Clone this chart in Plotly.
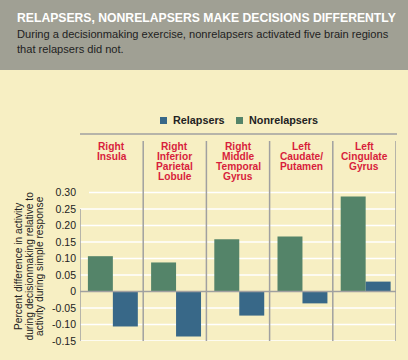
import plotly.graph_objects as go

categories = ["Right<br>Insula", "Right<br>Inferior<br>Parietal<br>Lobule",
              "Right<br>Middle<br>Temporal<br>Gyrus", "Left<br>Caudate/<br>Putamen",
              "Left<br>Cingulate<br>Gyrus"]
relapsers = [-0.106, -0.136, -0.073, -0.036, 0.030]
nonrelapsers = [0.107, 0.088, 0.158, 0.167, 0.288]
series_names = ["Relapsers", "Nonrelapsers"]
tick_vals = [0.30, 0.25, 0.20, 0.15, 0.10, 0.05, 0, -0.05, -0.10, -0.15]
tick_text = ["0.30", "0.25", "0.20", "0.15", "0.10", "0.05", "0", "-0.05", "-0.10", "-0.15"]
title = "RELAPSERS, NONRELAPSERS MAKE DECISIONS DIFFERENTLY"
subtitle = ["During a decisionmaking exercise, nonrelapsers activated five brain regions",
            "that relapsers did not."]
ytitle = ["Percent difference in activity", "during decisionmaking relative to",
          "activity during simple response"]

W, H = 408, 360
L, R, T, B = 80, 12, 134, 19
PW, PH = W - L - R, H - T - B

def px(x):
    return (x - L) / PW

def py(y):
    return (H - B - y) / PH

BG = "#F7EFC3"
GREEN = "#548469"
BLUE = "#386888"
RED = "#D81E3C"
GRAY = "#A0A0A0"
FONT = "Liberation Sans, Arial, sans-serif"

x_idx = list(range(len(categories)))
BW = 0.395
fig = go.Figure()
fig.add_bar(x=x_idx, y=nonrelapsers, name=series_names[1], marker_color=GREEN, marker_line_width=0,
            width=BW, offset=-0.375)
fig.add_bar(x=x_idx, y=relapsers, name=series_names[0], marker_color=BLUE, marker_line_width=0,
            width=BW, offset=0.02)

ymin, ymax = -0.15, -0.15 + PH * (0.05 / 16.5)

shapes = []
# header band
shapes.append(dict(type="rect", xref="paper", yref="paper", x0=px(0), x1=px(W), y0=py(70), y1=py(0),
                   fillcolor="#A0A094", line_width=0, layer="below"))
# gridlines
for v in tick_vals:
    if v == 0:
        continue
    shapes.append(dict(type="line", xref="paper", yref="y", x0=px(89) if v == max(tick_vals) else 0,
                       x1=1, y0=v, y1=v, line=dict(color="white", width=1.5), layer="below"))
# top rule
shapes.append(dict(type="line", xref="paper", yref="paper", x0=0, x1=px(397), y0=1, y1=1,
                   line=dict(color=GRAY, width=1.5)))
# zero line
shapes.append(dict(type="line", xref="paper", yref="y", x0=0, x1=1, y0=0, y1=0,
                   line=dict(color=GRAY, width=1.5)))
# column separators
for i in range(len(categories)):
    shapes.append(dict(type="line", xref="x", yref="paper", x0=i + 0.5, x1=i + 0.5, y0=0, y1=py(141),
                       line=dict(color=GRAY, width=1.5)))
shapes.append(dict(type="line", xref="x", yref="y", x0=-0.5, x1=-0.5, y0=-0.15, y1=0.25,
                   line=dict(color=GRAY, width=1.5)))

annotations = []
# legend (manual)
legend_items = [(series_names[0], BLUE, 160), (series_names[1], GREEN, 236)]
for name, col, x0 in legend_items:
    shapes.append(dict(type="rect", xref="paper", yref="paper", x0=px(x0), x1=px(x0 + 7),
                       y0=py(124), y1=py(117), fillcolor=col, line_width=0))
    annotations.append(dict(text="<b>" + name + "</b>", xref="paper", yref="paper", x=px(x0 + 11),
                            y=py(120.5), xanchor="left", yanchor="middle", showarrow=False,
                            font=dict(family=FONT, size=10.8, color="#222222")))

annotations.append(dict(text="<b>" + title + "</b>", xref="paper", yref="paper", x=px(15), y=py(18),
                        xanchor="left", yanchor="middle", showarrow=False,
                        font=dict(family=FONT, size=12.2, color="white")))
for k, line in enumerate(subtitle):
    annotations.append(dict(text=line, xref="paper", yref="paper", x=px(15), y=py(34 + 15 * k),
                            xanchor="left", yanchor="middle", showarrow=False,
                            font=dict(family=FONT, size=11.1, color="#222222")))
for i, cat in enumerate(categories):
    for k, line in enumerate(cat.split("<br>")):
        annotations.append(dict(text="<b>" + line + "</b>", xref="x", yref="paper", x=i, y=py(146 + 10 * k),
                                xanchor="center", yanchor="middle", showarrow=False,
                                font=dict(family=FONT, size=10.2, color=RED)))
for k, line in enumerate(ytitle):
    annotations.append(dict(text=line, xref="paper", yref="paper", x=px(18 + 10.5 * k), y=py(266),
                            xanchor="center", yanchor="middle", showarrow=False, textangle=-90,
                            font=dict(family=FONT, size=10.2, color="#222222")))

fig.update_layout(
    width=W, height=H, margin=dict(l=L, r=R, t=T, b=B, pad=0, autoexpand=False),
    paper_bgcolor=BG, plot_bgcolor=BG,
    barmode="overlay",
    showlegend=False,
    xaxis=dict(range=[-0.5, len(categories) - 0.5], showticklabels=False, showgrid=False,
               zeroline=False, showline=False, fixedrange=True, automargin=False),
    yaxis=dict(range=[ymin, ymax], tickvals=tick_vals, ticktext=tick_text, showgrid=False,
               zeroline=False, showline=False, ticks="", ticklabelstandoff=3, automargin=False,
               tickfont=dict(family=FONT, size=10.5, color="#222222"), fixedrange=True),
    shapes=shapes, annotations=annotations,
)
fig.write_html("out.html", config={"displayModeBar": False},
               post_script="document.body.style.margin='0';document.body.style.padding='0';"
                           "document.body.style.background='" + BG + "';")
